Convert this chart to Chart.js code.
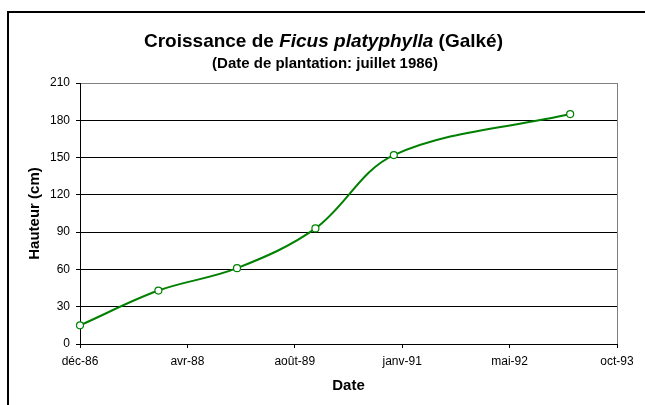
<!DOCTYPE html>
<html>
<head>
<meta charset="utf-8">
<script src="https://cdn.jsdelivr.net/npm/chart.js@4"></script>
<style>
  html, body { margin: 0; padding: 0; background: #fff; overflow: hidden; }
  #wrap { position: relative; width: 645px; height: 405px; }
  #frame { position: absolute; left: 7px; top: 11px; width: 700px; height: 500px; border: 2px solid #000; }
  #chart { position: absolute; left: 0; top: 0; }
</style>
</head>
<body>
<div id="wrap">
  <div id="frame"></div>
  <canvas id="chart" width="645" height="405"></canvas>
</div>
<script>
// mesures de hauteur
var axisStart = '1986-12-01';
var measureDates = ['1986-12-01', '1987-12-01', '1988-12-01', '1989-12-01', '1990-12-01', '1993-03-01'];
var heights = [15, 43, 61, 93, 152, 185];
var heightTicks = [0, 30, 60, 90, 120, 150, 180, 210];
var dayTicks = [0, 500, 1000, 1500, 2000, 2500];
var moisFr = ['janv', 'févr', 'mars', 'avr', 'mai', 'juin', 'juil', 'août', 'sept', 'oct', 'nov', 'déc'];

var DAY = 86400000;
var t0 = Date.parse(axisStart + 'T00:00:00Z');

function dayOffset(s) {
  return Math.round((Date.parse(s + 'T00:00:00Z') - t0) / DAY);
}
function dateLabel(d) {
  var t = new Date(t0 + d * DAY);
  return moisFr[t.getUTCMonth()] + '-' + String(t.getUTCFullYear()).slice(2);
}

var points = measureDates.map(function (s, i) {
  return { x: dayOffset(s), y: heights[i] };
});

var FONT = "'Liberation Sans', Arial, sans-serif";
Chart.defaults.font.family = FONT;
Chart.defaults.color = '#000';

// titre avec le nom latin en italique
var titleDraw = {
  id: 'titleDraw',
  afterDraw: function (chart) {
    var ctx = chart.ctx;
    var parts = [
      ['Croissance de ', 'bold 19px ' + FONT],
      ['Ficus platyphylla', 'italic bold 19px ' + FONT],
      [' (Galké)', 'bold 19px ' + FONT]
    ];
    ctx.save();
    ctx.fillStyle = '#000';
    ctx.textBaseline = 'alphabetic';
    var total = 0;
    parts.forEach(function (p) { ctx.font = p[1]; total += ctx.measureText(p[0]).width; });
    var x = 323.5 - total / 2;
    parts.forEach(function (p) {
      ctx.font = p[1];
      ctx.textAlign = 'left';
      ctx.fillText(p[0], x, 46.5);
      x += ctx.measureText(p[0]).width;
    });
    ctx.font = 'bold 15px ' + FONT;
    ctx.textAlign = 'center';
    ctx.fillText('(Date de plantation: juillet 1986)', 325, 67.5);
    ctx.restore();
  }
};

new Chart(document.getElementById('chart').getContext('2d'), {
  type: 'line',
  data: {
    datasets: [{
      data: points,
      borderColor: '#008000',
      borderWidth: 2,
      tension: 0.35,
      pointRadius: 3.5,
      pointBackgroundColor: '#fff',
      pointBorderColor: '#008000',
      pointBorderWidth: 1.2,
      clip: false
    }]
  },
  options: {
    responsive: false,
    animation: false,
    layout: { padding: { left: 0, right: 28, top: 83, bottom: 0 } },
    plugins: {
      legend: { display: false },
      tooltip: { enabled: false }
    },
    scales: {
      x: {
        type: 'linear',
        min: 0,
        max: 2500,
        afterFit: function (s) { s.height = 61; },
        afterBuildTicks: function (s) { s.ticks = dayTicks.map(function (v) { return { value: v }; }); },
        ticks: {
          font: { size: 12 },
          padding: 6,
          maxRotation: 0,
          callback: function (v) { return dateLabel(v); }
        },
        grid: {
          drawOnChartArea: true,
          color: function (c) { return c.tick && c.tick.value === 2500 ? '#808080' : 'rgba(0,0,0,0)'; },
          tickColor: '#000',
          tickLength: 4
        },
        border: { color: '#000', width: 1 },
        title: {
          display: true,
          text: 'Date',
          font: { size: 15, weight: 'bold' },
          padding: { top: 0, bottom: 10 }
        }
      },
      y: {
        min: 0,
        max: 210,
        afterFit: function (s) { s.width = 80; },
        afterBuildTicks: function (s) { s.ticks = heightTicks.map(function (v) { return { value: v }; }); },
        ticks: { font: { size: 12 }, padding: 6 },
        grid: {
          color: function (c) { return c.tick && c.tick.value === 210 ? '#808080' : '#000'; },
          tickColor: '#000',
          tickLength: 4
        },
        border: { color: '#000', width: 1 },
        title: {
          display: true,
          text: 'Hauteur (cm)',
          font: { size: 15, weight: 'bold' },
          padding: { top: 26, bottom: 0 }
        }
      }
    }
  },
  plugins: [titleDraw]
});
</script>
</body>
</html>
